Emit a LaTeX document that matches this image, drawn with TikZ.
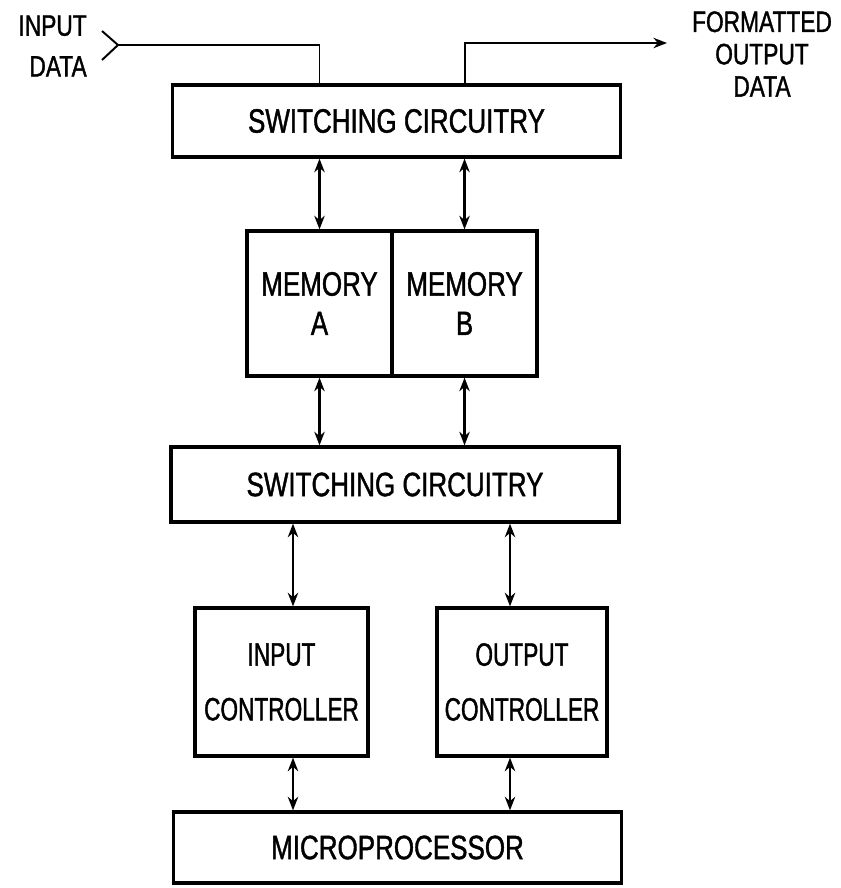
\documentclass[tikz,border=0pt]{standalone}
\usepackage{fontspec}
\setmainfont{Liberation Sans}[FakeStretch=0.77, FakeBold=1.2]
\newfontfamily\narrowfont{Liberation Sans}[FakeStretch=0.7, FakeBold=1.2]
\usetikzlibrary{arrows.meta}
\usetikzlibrary{positioning}

\begin{document}
\begin{tikzpicture}[x=0.025cm, y=-0.025cm,
    block/.style={draw, line width=2.3pt, align=center, inner sep=0pt,
        font=\fontsize{24}{28}\selectfont},
    wide/.style={block, minimum width=11.2cm, minimum height=1.8cm},
    ctl/.style={block, minimum height=3.7cm, font=\narrowfont\fontsize{23}{27}\selectfont},
    bus/.style={line width=1.8pt,
        {Stealth[length=3.4mm,width=2.6mm]}-{Stealth[length=3.4mm,width=2.6mm]}},
    feed/.style={line width=1.4pt},
    tag/.style={align=center, inner sep=0pt, font=\fontsize{21}{23}\selectfont}]
    \useasboundingbox (0,0) rectangle (841,888);

    % switching stages, memory pair, controllers
    \node[wide] (swtop) at (396.5,121) {SWITCHING CIRCUITRY};
    \node[block, minimum width=3.625cm, minimum height=3.625cm] (memA) at (319.5,303.5) {MEMORY\\A};
    \node[block, minimum width=3.625cm, minimum height=3.625cm, right=-2.3pt of memA] (memB) {MEMORY\\B};
    \node[wide, minimum height=1.875cm] (swlow) at (395,484.5) {SWITCHING CIRCUITRY};
    \node[ctl, minimum width=4.325cm] (inctl) at (281.5,682) {INPUT\\[12pt]CONTROLLER};
    \node[ctl, minimum width=4.25cm] (outctl) at (522,682) {OUTPUT\\[12pt]CONTROLLER};
    \node[wide, minimum height=1.775cm] (micro) at (397.5,847.5) {MICROPROCESSOR};

    % data in and out
    \node[tag, align=right, anchor=east] (indata) at (87,46) {INPUT\\[6pt]DATA};
    \node[tag] (outdata) at (762,54) {FORMATTED\\OUTPUT\\DATA};
    \coordinate (inend) at (118,45);
    \coordinate (outtip) at (667,43);
    \draw[feed] (102,31) -- (inend) -- (102,60);
    \draw[feed] (inend) -| (swtop.north -| memA);
    \draw[feed, -{Stealth[length=3.4mm,width=2.6mm]}] (swtop.north -| memB) |- (outtip);

    % bidirectional buses
    \coordinate (inlane) at (293,0);
    \coordinate (outlane) at (510,0);
    \draw[bus] (swtop.south -| memA) -- (memA.north);
    \draw[bus] (swtop.south -| memB) -- (memB.north);
    \draw[bus] (memA.south) -- (swlow.north -| memA);
    \draw[bus] (memB.south) -- (swlow.north -| memB);
    \draw[bus] (swlow.south -| inlane) -- (inctl.north -| inlane);
    \draw[bus] (swlow.south -| outlane) -- (outctl.north -| outlane);
    \draw[bus] (inctl.south -| inlane) -- (micro.north -| inlane);
    \draw[bus] (outctl.south -| outlane) -- (micro.north -| outlane);
\end{tikzpicture}
\end{document}
